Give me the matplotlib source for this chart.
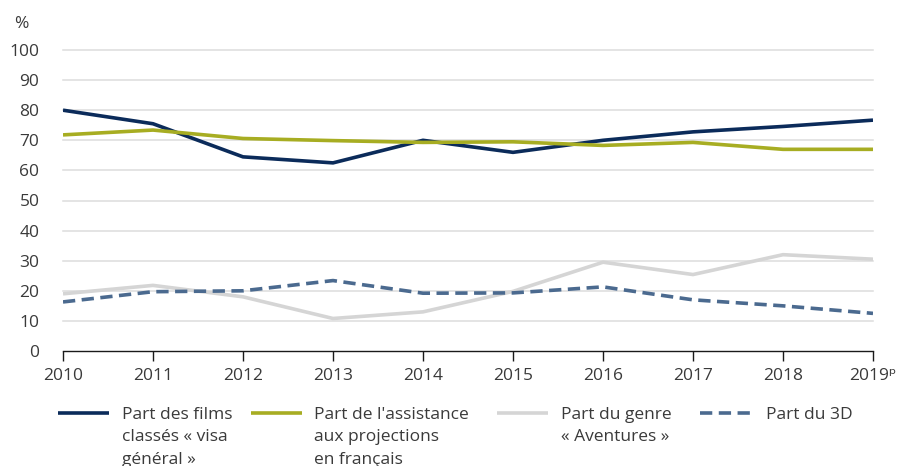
import matplotlib
matplotlib.use("Agg")
import matplotlib.pyplot as plt
from matplotlib.lines import Line2D

years = [2010, 2011, 2012, 2013, 2014, 2015, 2016, 2017, 2018, 2019]
year_labels = ["2010", "2011", "2012", "2013", "2014", "2015", "2016", "2017", "2018",
               "2019\u1d56"]
visa_general = [80, 75.5, 64.5, 62.5, 70, 66, 70, 72.8, 74.6, 76.7]
assistance_fr = [71.8, 73.4, 70.6, 69.9, 69.3, 69.5, 68.3, 69.3, 67, 67]
aventures = [19, 21.8, 18, 10.8, 13, 19.8, 29.5, 25.4, 32, 30.5]
part_3d = [16.3, 19.7, 20, 23.4, 19.2, 19.3, 21.3, 17, 15, 12.5]
yticks = [0, 10, 20, 30, 40, 50, 60, 70, 80, 90, 100]

labels = [["Part des films", "classés « visa", "général »"],
          ["Part de l'assistance", "aux projections", "en français"],
          ["Part du genre", "« Aventures »"],
          ["Part du 3D"]]

C_NAVY = "#0b2b5a"
C_OLIVE = "#a7ad22"
C_GREY = "#d5d5d5"
C_DASH = "#4b6a8f"
TXT = "#3a3a3a"

plt.rcParams['font.family'] = ['Open Sans', 'DejaVu Sans']
FS = 12.5

W, H = 909, 466
fig = plt.figure(figsize=(W / 100, H / 100), dpi=100)
ax = fig.add_axes([63 / W, 1 - 351 / H, (873 - 63) / W, (351 - 50) / H])

lw = 2.6
ax.plot(years, visa_general, color=C_NAVY, lw=lw, solid_capstyle='butt', zorder=3)
ax.plot(years, assistance_fr, color=C_OLIVE, lw=lw, solid_capstyle='butt', zorder=4)
ax.plot(years, aventures, color=C_GREY, lw=lw, solid_capstyle='butt', zorder=3)
ax.plot(years, part_3d, color=C_DASH, lw=lw, dashes=(3.4, 1.8), dash_capstyle='butt', zorder=5)

ax.set_xlim(2010, 2019)
ax.set_ylim(0, 100)
ax.set_yticks(yticks)
ax.set_yticklabels([str(v) for v in yticks])
ax.set_xticks(years)
ax.set_xticklabels(year_labels)

for v in yticks[1:]:
    ax.axhline(v, color="#dcdcdc", lw=1.1, zorder=1, clip_on=False)

for s in ['top', 'right', 'left']:
    ax.spines[s].set_visible(False)
ax.spines['bottom'].set_color('#1a1a1a')
ax.spines['bottom'].set_linewidth(1.0)
ax.spines['bottom'].set_zorder(6)

ax.tick_params(axis='y', length=0, pad=17, labelsize=FS, labelcolor=TXT)
ax.tick_params(axis='x', length=7, width=1.0, color='#1a1a1a', direction='out',
               pad=5, labelsize=FS, labelcolor=TXT)

fig.text(14 / W, 1 - 28 / H, "%", fontsize=FS, color=TXT, va='baseline', ha='left')

# legend drawn manually
colors = [C_NAVY, C_OLIVE, C_GREY, C_DASH]
handle_x = [58, 251, 497, 700]
text_x = [122, 314, 561, 766]
handle_len = 51
y_handle = 1 - 413 / H
base_px = 419
line_step = 22.3
for i in range(4):
    kw = dict(color=colors[i], lw=lw, solid_capstyle='butt')
    if i == 3:
        kw = dict(color=colors[i], lw=lw, dashes=(3.4, 1.8), dash_capstyle='butt')
    fig.add_artist(Line2D([handle_x[i] / W, (handle_x[i] + handle_len) / W],
                          [y_handle, y_handle], transform=fig.transFigure, **kw))
    for j, line in enumerate(labels[i]):
        fig.text(text_x[i] / W, 1 - (base_px + j * line_step) / H, line, fontsize=FS,
                 color=TXT, va='baseline', ha='left')

fig.savefig("out.png", dpi=100)
